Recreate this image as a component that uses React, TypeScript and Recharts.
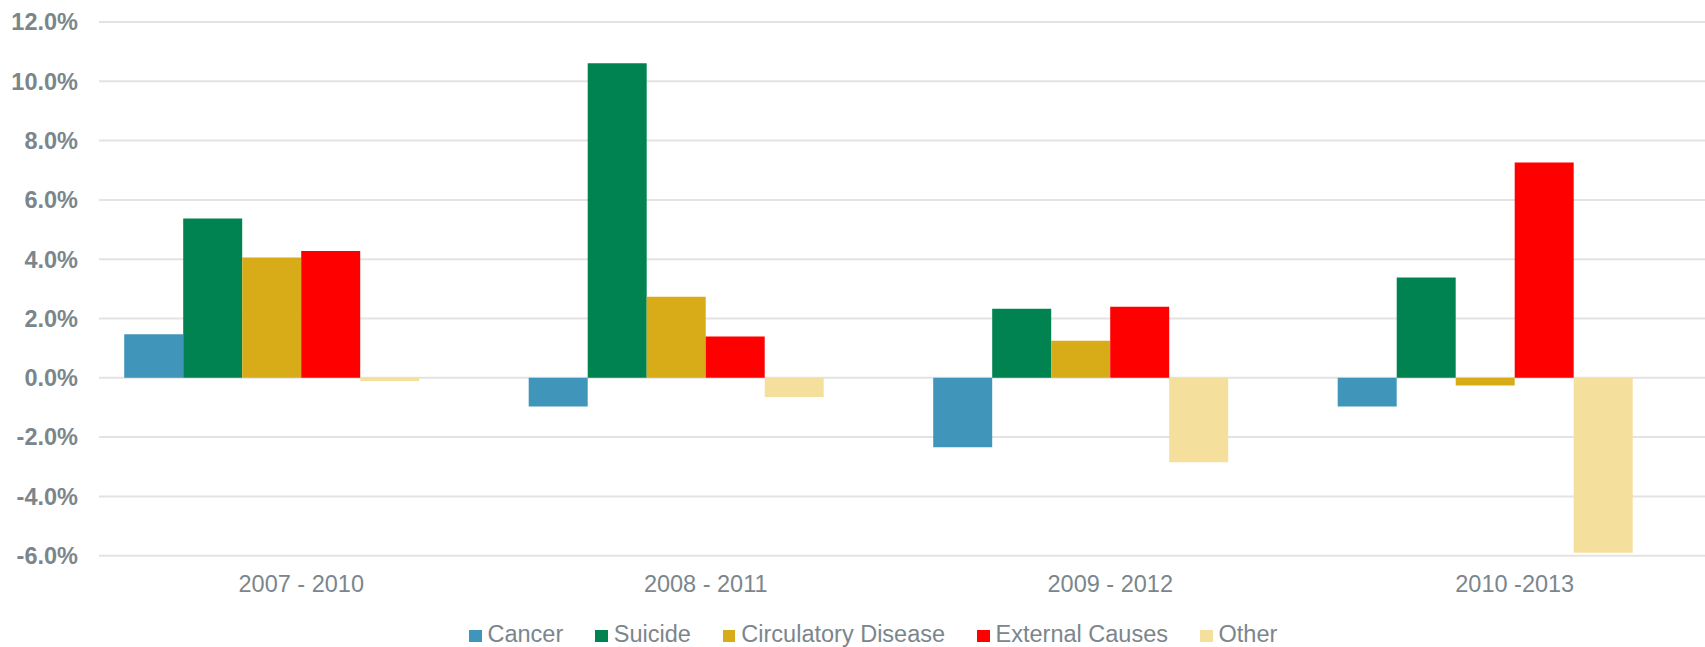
import { Bar, BarChart, CartesianGrid, Legend, XAxis, YAxis } from "recharts";

const periods = ["2007 - 2010", "2008 - 2011", "2009 - 2012", "2010 -2013"];
const cancer = [1.47, -0.97, -2.34, -0.97];
const suicide = [5.37, 10.61, 2.33, 3.38];
const circulatory = [4.06, 2.73, 1.25, -0.26];
const external = [4.28, 1.39, 2.4, 7.26];
const other = [-0.11, -0.65, -2.85, -5.9];
const yTicks = [-6, -4, -2, 0, 2, 4, 6, 8, 10, 12];

const SERIES = [
  { key: "cancer", name: "Cancer", color: "#4096ba" },
  { key: "suicide", name: "Suicide", color: "#008350" },
  { key: "circulatory", name: "Circulatory Disease", color: "#d8ab19" },
  { key: "external", name: "External Causes", color: "#ff0000" },
  { key: "other", name: "Other", color: "#f5df9c" },
];

const data = periods.map((period, i) => ({
  period,
  cancer: cancer[i],
  suicide: suicide[i],
  circulatory: circulatory[i],
  external: external[i],
  other: other[i],
}));

const FONT = "'Liberation Sans', Arial, sans-serif";
const GREY = "#7b868c";

function YTick(props: any) {
  return (
    <text
      x={props.x + 8}
      y={props.y}
      dy={8.3}
      textAnchor="end"
      fontFamily={FONT}
      fontSize={23.5}
      fontWeight="bold"
      fill={GREY}
    >
      {props.payload.value.toFixed(1) + "%"}
    </text>
  );
}

function XTick(props: any) {
  return (
    <text
      x={props.x + 29}
      y={props.y}
      dy={36.3}
      textAnchor="middle"
      fontFamily={FONT}
      fontSize={23.5}
      fill={GREY}
    >
      {props.payload.value}
    </text>
  );
}

function GridLine(props: any) {
  return (
    <line
      key={props.key}
      x1={props.x1 + 29}
      x2={props.x2 + 17}
      y1={props.y1}
      y2={props.y2}
      stroke="#e3e3e3"
      strokeWidth={2}
    />
  );
}

function LegendBox() {
  return (
    <div
      style={{
        fontFamily: FONT,
        fontSize: 23.5,
        lineHeight: "26px",
        color: GREY,
        whiteSpace: "nowrap",
      }}
    >
      {SERIES.map((s) => (
        <span key={s.key} style={{ marginRight: 32 }}>
          <span
            style={{
              display: "inline-block",
              width: 12.5,
              height: 12.5,
              marginRight: 6,
              background: s.color,
            }}
          />
          {s.name}
        </span>
      ))}
    </div>
  );
}

export default function App() {
  return (
    <div style={{ position: "absolute", left: 0, top: 0, background: "#fff" }}>
      <BarChart
        width={1705}
        height={647}
        data={data}
        margin={{ top: 22, right: 17, bottom: 25.3, left: 0 }}
        barCategoryGap="13.4%"
        barGap={0}
      >
        <CartesianGrid vertical={false} horizontal={GridLine} />
        <XAxis
          dataKey="period"
          height={40}
          tickLine={false}
          axisLine={false}
          tickSize={0}
          tickMargin={0}
          tick={XTick}
        />
        <YAxis
          width={70}
          domain={[-6, 12]}
          ticks={yTicks}
          interval={0}
          tickLine={false}
          axisLine={false}
          tickSize={0}
          tickMargin={0}
          tick={YTick}
        />
        <Legend
          content={LegendBox}
          wrapperStyle={{ left: 469, top: 621, height: 26, width: 1000 }}
        />
        {SERIES.map((s) => (
          <Bar
            key={s.key}
            dataKey={s.key}
            name={s.name}
            fill={s.color}
            isAnimationActive={false}
          />
        ))}
      </BarChart>
    </div>
  );
}
